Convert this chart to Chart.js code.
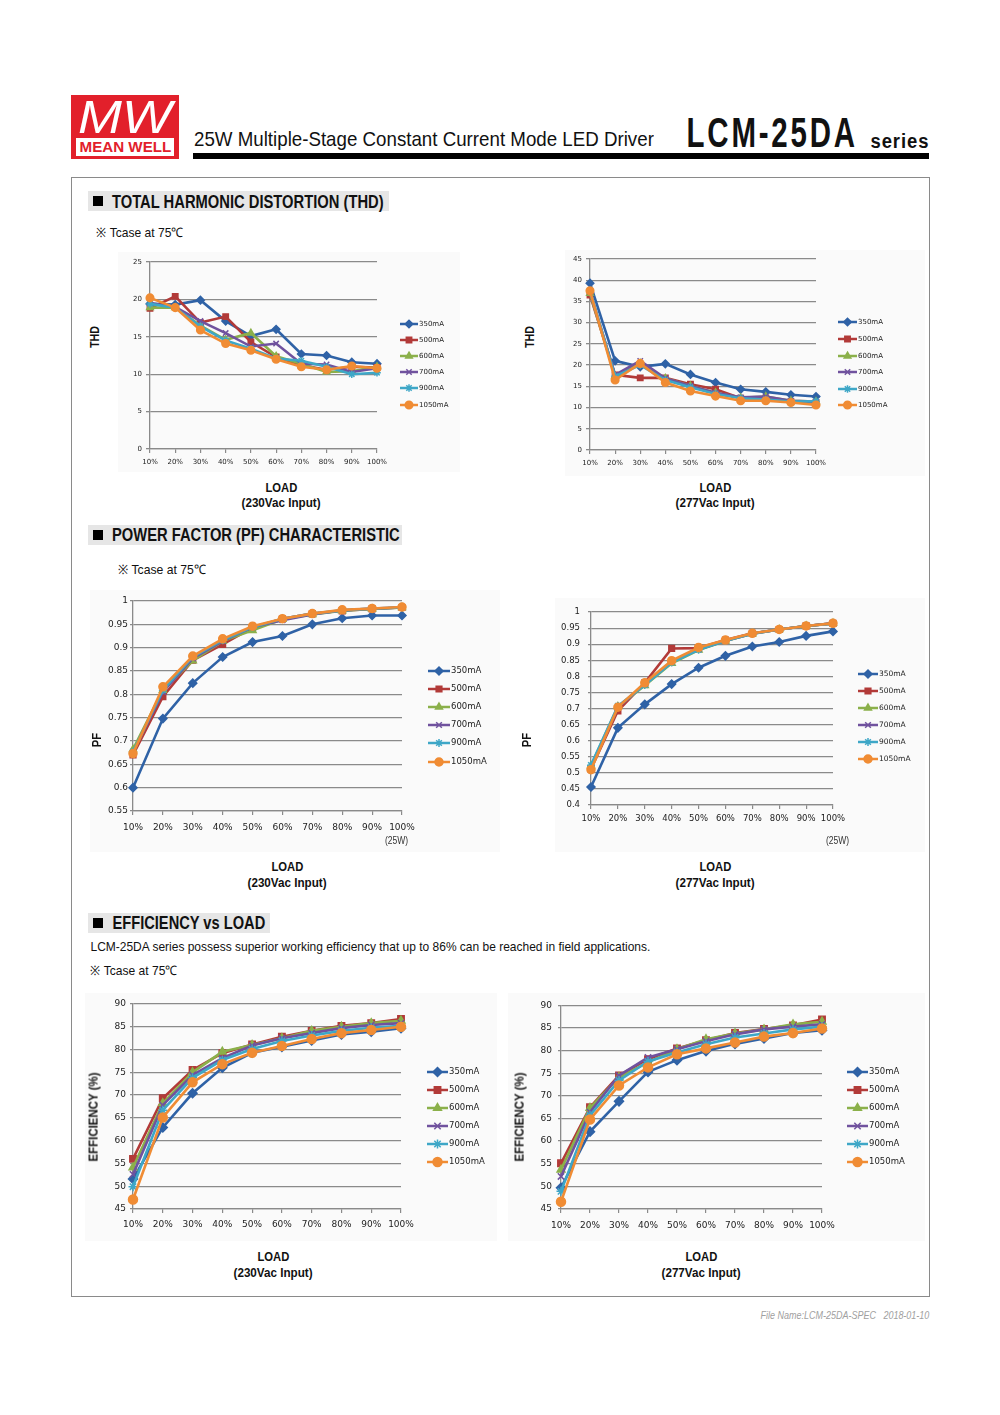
<!DOCTYPE html>
<html>
<head>
<meta charset="utf-8">
<script src="https://cdn.jsdelivr.net/npm/chart.js@4.4.0/dist/chart.umd.min.js"></script>
<style>
body{margin:0;background:#fff;width:1000px;height:1415px;position:relative;overflow:hidden;font-family:"Liberation Sans",Arial,sans-serif;color:#111}
.t{position:absolute;white-space:nowrap;line-height:1}
.b{font-weight:bold}
canvas{position:absolute}
.box{position:absolute}
.panel{position:absolute;background:#fafafa}
</style>
</head>
<body>

<!-- header -->
<div class="box" style="left:71px;top:95px;width:108px;height:64px;background:#e2202b"></div>
<div class="box" style="left:76px;top:138px;width:98px;height:18px;background:#fff"></div>
<div class="t" style="font-size:46px;font-style:italic;color:#fff" data-x="78" data-y="117" data-w="94">MW</div>
<div class="t b" style="font-size:14px;color:#e2202b" data-x="79" data-y="147" data-w="92">MEAN WELL</div>
<div class="t" style="font-size:21px" data-x="194" data-y="138.5" data-w="460">25W Multiple-Stage Constant Current Mode LED Driver</div>
<div class="t b" style="font-size:42px;letter-spacing:4px" data-x="686" data-y="133" data-w="171">LCM-25DA</div>
<div class="t b" style="font-size:20px;letter-spacing:1px" data-x="870" data-y="141" data-w="59">series</div>
<div class="box" style="left:193px;top:153px;width:736px;height:6px;background:#000"></div>

<div class="box" style="left:71px;top:177px;width:859px;height:1120px;border:1px solid #8a8a8a;box-sizing:border-box"></div>

<!-- faint chart panels -->
<div class="panel" style="left:118px;top:252px;width:342px;height:220px"></div>
<div class="panel" style="left:565px;top:250px;width:360px;height:226px"></div>
<div class="panel" style="left:90px;top:590px;width:410px;height:262px"></div>
<div class="panel" style="left:555px;top:598px;width:370px;height:254px"></div>
<div class="panel" style="left:85px;top:993px;width:412px;height:248px"></div>
<div class="panel" style="left:508px;top:993px;width:417px;height:248px"></div>

<!-- section THD -->
<div class="box" style="left:88px;top:191px;width:301px;height:20px;background:#e6e6e6"></div>
<div class="box" style="left:93px;top:196px;width:10px;height:10px;background:#000"></div>
<div class="t b" style="font-size:18px" data-x="112" data-y="201.5" data-w="272">TOTAL HARMONIC DISTORTION (THD)</div>
<div class="t" style="font-size:13px" data-x="96" data-y="232" data-w="87">※ Tcase at 75℃</div>

<!-- section PF -->
<div class="box" style="left:88px;top:525px;width:314px;height:20px;background:#e6e6e6"></div>
<div class="box" style="left:93px;top:530px;width:10px;height:10px;background:#000"></div>
<div class="t b" style="font-size:18px" data-x="112" data-y="535" data-w="288">POWER FACTOR (PF) CHARACTERISTIC</div>
<div class="t" style="font-size:13px" data-x="118" data-y="569" data-w="88">※ Tcase at 75℃</div>

<!-- section EFF -->
<div class="box" style="left:88px;top:913px;width:182px;height:20px;background:#e6e6e6"></div>
<div class="box" style="left:93px;top:918px;width:10px;height:10px;background:#000"></div>
<div class="t b" style="font-size:18px" data-x="112" data-y="923" data-w="153">EFFICIENCY vs LOAD</div>
<div class="t" style="font-size:13.5px" data-x="90" data-y="947" data-w="560">LCM-25DA series possess superior working efficiency that up to 86% can be reached in field applications.</div>
<div class="t" style="font-size:13px" data-x="90" data-y="970" data-w="87">※ Tcase at 75℃</div>

<canvas id="thd230"></canvas>
<canvas id="thd277"></canvas>
<canvas id="pf230"></canvas>
<canvas id="pf277"></canvas>
<canvas id="eff230"></canvas>
<canvas id="eff277"></canvas>

<!-- axis titles -->
<div class="t b" style="font-size:12px" data-x="95" data-y="337" data-w="22" data-c="1" data-r="1">THD</div>
<div class="t b" style="font-size:12px" data-x="530" data-y="337" data-w="22" data-c="1" data-r="1">THD</div>
<div class="t b" style="font-size:12px" data-x="96" data-y="740" data-w="14" data-c="1" data-r="1">PF</div>
<div class="t b" style="font-size:12px" data-x="526" data-y="740" data-w="14" data-c="1" data-r="1">PF</div>
<div class="t b" style="font-size:12px" data-x="93" data-y="1117" data-w="89" data-c="1" data-r="1">EFFICIENCY (%)</div>
<div class="t b" style="font-size:12px" data-x="519" data-y="1117" data-w="89" data-c="1" data-r="1">EFFICIENCY (%)</div>

<div class="t b" style="font-size:13px" data-x="281" data-y="487" data-w="32" data-c="1">LOAD</div>
<div class="t b" style="font-size:13px" data-x="281" data-y="502" data-w="79" data-c="1">(230Vac Input)</div>
<div class="t b" style="font-size:13px" data-x="715" data-y="487" data-w="32" data-c="1">LOAD</div>
<div class="t b" style="font-size:13px" data-x="715" data-y="502" data-w="79" data-c="1">(277Vac Input)</div>
<div class="t b" style="font-size:13px" data-x="287" data-y="866" data-w="32" data-c="1">LOAD</div>
<div class="t b" style="font-size:13px" data-x="287" data-y="882" data-w="79" data-c="1">(230Vac Input)</div>
<div class="t b" style="font-size:13px" data-x="715" data-y="866" data-w="32" data-c="1">LOAD</div>
<div class="t b" style="font-size:13px" data-x="715" data-y="882" data-w="79" data-c="1">(277Vac Input)</div>
<div class="t b" style="font-size:13px" data-x="273" data-y="1256" data-w="32" data-c="1">LOAD</div>
<div class="t b" style="font-size:13px" data-x="273" data-y="1272" data-w="79" data-c="1">(230Vac Input)</div>
<div class="t b" style="font-size:13px" data-x="701" data-y="1256" data-w="32" data-c="1">LOAD</div>
<div class="t b" style="font-size:13px" data-x="701" data-y="1272" data-w="79" data-c="1">(277Vac Input)</div>

<div class="t" style="font-size:10px;color:#333" data-x="385" data-y="841" data-w="23">(25W)</div>
<div class="t" style="font-size:10px;color:#333" data-x="826" data-y="841" data-w="23">(25W)</div>

<div class="t" style="font-size:10px;font-style:italic;color:#a0a0a0" data-x="760" data-y="1316" data-w="169">File Name:LCM-25DA-SPEC&nbsp;&nbsp;&nbsp;2018-01-10</div>

<script>
// categories / series
const loadLabels = ['10%','20%','30%','40%','50%','60%','70%','80%','90%','100%'];
const seriesNames = ['350mA','500mA','600mA','700mA','900mA','1050mA'];

// THD, 230Vac
const thd230 = [
    [19.4, 19.3, 19.9, 17.1, 15.1, 16.0, 12.7, 12.5, 11.6, 11.4],
    [18.8, 20.4, 16.9, 17.7, 14.3, 12.3, 11.2, 10.6, 11.0, 10.9],
    [18.9, 18.9, 16.5, 14.6, 15.5, 12.4, 11.4, 10.3, 10.4, 11.0],
    [19.5, 19.0, 17.1, 15.5, 13.7, 14.1, 11.4, 11.3, 10.3, 10.8],
    [19.4, 18.9, 16.4, 14.5, 13.4, 12.1, 11.8, 11.0, 10.0, 10.2],
    [20.2, 18.9, 15.9, 14.1, 13.2, 12.0, 11.0, 10.6, 11.1, 10.8]
];
// THD, 277Vac
const thd277 = [
    [39.3, 21.0, 19.6, 20.3, 17.8, 15.9, 14.3, 13.7, 13.0, 12.6],
    [36.5, 17.7, 17.0, 17.0, 15.5, 14.3, 12.2, 12.2, 11.4, 11.2],
    [36.9, 17.4, 20.4, 16.9, 15.1, 13.5, 12.3, 12.6, 11.6, 11.4],
    [37.3, 17.7, 21.0, 16.9, 15.1, 13.5, 12.4, 12.6, 11.6, 11.4],
    [37.5, 17.4, 20.0, 16.5, 14.8, 13.2, 12.2, 11.9, 11.4, 11.5],
    [37.5, 16.5, 20.4, 15.9, 13.9, 12.7, 11.6, 11.6, 11.2, 10.6]
];
// PF, 230Vac
const pf230 = [
    [0.600, 0.748, 0.824, 0.880, 0.912, 0.925, 0.950, 0.963, 0.969, 0.969],
    [0.670, 0.795, 0.873, 0.907, 0.943, 0.962, 0.973, 0.979, 0.983, 0.986],
    [0.682, 0.809, 0.872, 0.914, 0.937, 0.961, 0.971, 0.979, 0.983, 0.986],
    [0.675, 0.805, 0.877, 0.914, 0.944, 0.959, 0.971, 0.980, 0.984, 0.986],
    [0.677, 0.809, 0.880, 0.916, 0.944, 0.962, 0.973, 0.980, 0.984, 0.986],
    [0.673, 0.816, 0.882, 0.919, 0.946, 0.962, 0.973, 0.981, 0.984, 0.987]
];
// PF, 277Vac
const pf277 = [
    [0.456, 0.640, 0.713, 0.776, 0.827, 0.864, 0.893, 0.907, 0.926, 0.940],
    [0.512, 0.693, 0.780, 0.887, 0.888, 0.913, 0.934, 0.946, 0.957, 0.965],
    [0.522, 0.706, 0.772, 0.841, 0.882, 0.910, 0.933, 0.946, 0.957, 0.965],
    [0.515, 0.703, 0.776, 0.845, 0.884, 0.911, 0.933, 0.946, 0.957, 0.965],
    [0.524, 0.708, 0.773, 0.843, 0.883, 0.911, 0.933, 0.946, 0.957, 0.964],
    [0.510, 0.704, 0.780, 0.849, 0.890, 0.913, 0.934, 0.946, 0.957, 0.965]
];
// efficiency, 230Vac
const eff230 = [
    [51.6, 62.9, 70.4, 76.0, 79.3, 80.6, 82.0, 83.3, 83.9, 84.7],
    [56.0, 69.3, 75.5, 79.2, 81.1, 82.8, 84.1, 85.2, 85.8, 86.7],
    [54.1, 68.2, 75.0, 79.5, 81.0, 82.5, 84.1, 85.0, 85.8, 86.3],
    [52.6, 67.8, 74.4, 78.1, 80.9, 82.5, 83.6, 84.7, 85.4, 85.8],
    [49.9, 66.7, 73.8, 77.7, 80.1, 81.9, 83.1, 84.1, 84.8, 85.2],
    [47.1, 65.1, 72.8, 76.8, 79.3, 80.8, 82.3, 83.6, 84.3, 85.0]
];
// efficiency, 277Vac
const eff277 = [
    [49.7, 62.1, 68.8, 75.3, 77.9, 79.9, 81.5, 82.7, 83.9, 84.5],
    [55.1, 67.5, 74.5, 78.1, 80.5, 82.3, 83.9, 84.8, 85.6, 86.9],
    [53.7, 67.3, 74.1, 77.4, 80.3, 82.5, 83.8, 84.7, 85.8, 86.4],
    [52.2, 66.4, 74.5, 78.5, 80.3, 82.1, 83.6, 84.7, 85.3, 85.8],
    [48.9, 65.7, 73.4, 77.6, 79.6, 81.4, 82.9, 83.8, 84.7, 85.3],
    [46.6, 64.8, 72.3, 76.3, 79.2, 80.5, 81.8, 83.1, 83.9, 84.9]
];

// tick labels
const thdTicks230 = [0, 5, 10, 15, 20, 25];
const thdTicks277 = [0, 5, 10, 15, 20, 25, 30, 35, 40, 45];
const pfTicks230 = [0.55, 0.6, 0.65, 0.7, 0.75, 0.8, 0.85, 0.9, 0.95, 1];
const pfTicks277 = [0.4, 0.45, 0.5, 0.55, 0.6, 0.65, 0.7, 0.75, 0.8, 0.85, 0.9, 0.95, 1];
const effTicks = [45, 50, 55, 60, 65, 70, 75, 80, 85, 90];

const colors = ['#2f62a6', '#b23a38', '#8bb04a', '#70529e', '#3ea7c7', '#f08c34'];
const markers = ['rectRot', 'rect', 'triangle', 'crossRot', 'star', 'circle'];
const tickFont = '"DejaVu Sans", Verdana, sans-serif';

const sideLegend = {
    id: 'sideLegend',
    afterDraw: (chart, args, o) => {
        const ctx = chart.ctx;
        chart.data.datasets.forEach((ds, i) => {
            const y = o.ys[i];
            ctx.save();
            ctx.strokeStyle = ds.borderColor;
            ctx.lineWidth = 2.5;
            ctx.beginPath();
            ctx.moveTo(o.x0, y);
            ctx.lineTo(o.x1, y);
            ctx.stroke();
            ctx.lineWidth = 1.5;
            ctx.fillStyle = ds.backgroundColor;
            Chart.helpers.drawPoint(ctx, {pointStyle: ds.pointStyle, radius: o.r, borderWidth: 1.5, rotation: 0}, (o.x0 + o.x1) / 2, y);
            ctx.fillStyle = '#222';
            ctx.font = o.size + 'px ' + tickFont;
            ctx.textBaseline = 'middle';
            ctx.textAlign = 'left';
            ctx.fillText(ds.label, o.x1 + 1, y);
            ctx.restore();
        });
    }
};

const makeChart = (id, c, rows, ticks) => {
    const cv = document.getElementById(id);
    const offX = c.l - 40, offY = c.t - 10;
    const W = c.r - c.l + 40 + c.padR;
    const H = c.b - c.t + 10 + 30;
    cv.width = W; cv.height = H;
    cv.style.left = offX + 'px';
    cv.style.top = offY + 'px';
    cv.style.width = W + 'px';
    cv.style.height = H + 'px';

    new Chart(cv, {
        type: 'line',
        data: {
            labels: loadLabels,
            datasets: seriesNames.map((n, i) => ({
                label: n,
                data: rows[i],
                borderColor: colors[i],
                backgroundColor: colors[i],
                borderWidth: 2.6,
                pointStyle: markers[i],
                pointRadius: c.pr,
                pointBorderWidth: 1.5,
                tension: 0,
                clip: false,
                order: 6 - i
            }))
        },
        options: {
            responsive: false,
            animation: false,
            devicePixelRatio: 1,
            layout: {padding: {left: 0, top: 10, right: c.padR, bottom: 0}},
            plugins: {
                legend: {display: false},
                tooltip: {enabled: false},
                sideLegend: {
                    x0: c.lx0 - offX, x1: c.lx1 - offX,
                    ys: c.ly.map(v => v - offY),
                    r: c.pr, size: c.lf
                }
            },
            scales: {
                x: {
                    offset: false,
                    grid: {display: true, drawOnChartArea: false, drawTicks: true, tickLength: 4, color: '#8a8a8a', lineWidth: 1.2, offset: false},
                    border: {color: '#8a8a8a', width: 1.3},
                    ticks: {font: {family: tickFont, size: c.tf}, color: '#222', padding: c.xp, maxRotation: 0, autoSkip: false},
                    afterFit: s => { s.height = 30; }
                },
                y: {
                    min: ticks[0],
                    max: ticks[ticks.length - 1],
                    afterBuildTicks: s => { s.ticks = ticks.map(v => ({value: v})); },
                    grid: {color: '#8a8a8a', lineWidth: 1.3, tickLength: c.tl},
                    border: {color: '#8a8a8a', width: 1.3},
                    ticks: {font: {family: tickFont, size: c.tf}, color: '#222', padding: c.yp, callback: v => String(+v.toFixed(2))},
                    afterFit: s => { s.width = 40; }
                }
            }
        },
        plugins: [sideLegend]
    });
};

const placeText = () => {
    document.querySelectorAll('[data-w]').forEach(el => {
        const w = +el.dataset.w, x = +el.dataset.x, y = +el.dataset.y;
        const nat = el.offsetWidth, h = el.offsetHeight;
        el.style.transformOrigin = '50% 50%';
        el.style.left = (el.dataset.c ? x - nat / 2 : x + (w - nat) / 2) + 'px';
        el.style.top = (y - h / 2) + 'px';
        el.style.transform = (el.dataset.r ? 'rotate(-90deg) ' : '') + 'scaleX(' + (w / nat) + ')';
    });
};

placeText();

makeChart('thd230', {l: 150, t: 262, r: 377, b: 449, padR: 85, pr: 3.8, tf: 7, lf: 7, xp: 5, yp: 4, tl: 4,
    lx0: 400, lx1: 418, ly: [324, 340, 356, 372, 388, 405]}, thd230, thdTicks230);
makeChart('thd277', {l: 590, t: 259, r: 816, b: 450, padR: 85, pr: 3.8, tf: 7, lf: 7, xp: 5, yp: 4, tl: 4,
    lx0: 838, lx1: 857, ly: [322, 339, 356, 372, 389, 405]}, thd277, thdTicks277);
makeChart('pf230', {l: 133, t: 601, r: 402, b: 811, padR: 100, pr: 4, tf: 9, lf: 8.5, xp: 7.5, yp: 2, tl: 3,
    lx0: 428, lx1: 450, ly: [671, 689, 707, 725, 743, 762]}, pf230, pfTicks230);
makeChart('pf277', {l: 591, t: 609, r: 833, b: 805, padR: 95, pr: 4, tf: 8.5, lf: 7.5, xp: 5, yp: 8, tl: 3,
    lx0: 858, lx1: 878, ly: [674, 691, 708, 725, 742, 759]}, pf277, pfTicks277);
makeChart('eff230', {l: 133, t: 1004, r: 401, b: 1209, padR: 95, pr: 4.5, tf: 9, lf: 8.5, xp: 6, yp: 4, tl: 3,
    lx0: 427, lx1: 448, ly: [1072, 1090, 1108, 1126, 1144, 1162]}, eff230, effTicks);
makeChart('eff277', {l: 561, t: 1004, r: 822, b: 1209, padR: 95, pr: 4.5, tf: 9, lf: 8.5, xp: 7, yp: 6, tl: 3,
    lx0: 847, lx1: 868, ly: [1072, 1090, 1108, 1126, 1144, 1162]}, eff277, effTicks);
</script>
</body>
</html>
